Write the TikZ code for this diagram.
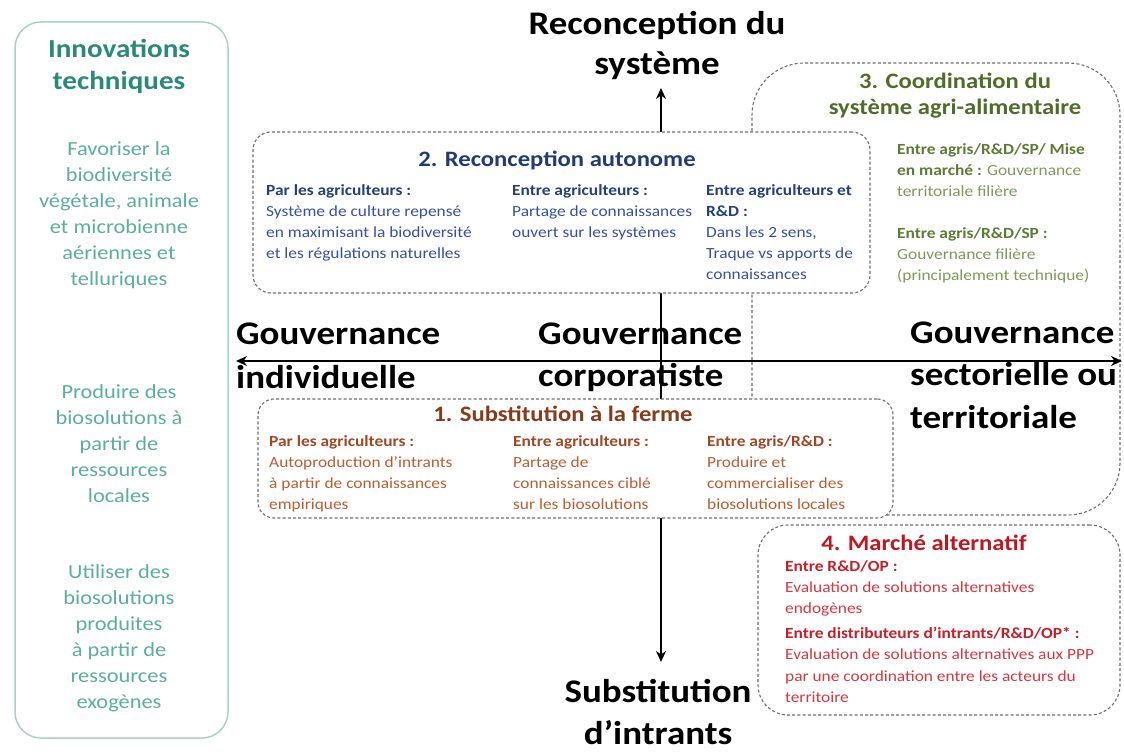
\documentclass[tikz,border=0pt]{standalone}
\usepackage{fontspec}
\setmainfont{Carlito}[FakeStretch=1.12]
\usetikzlibrary{arrows.meta}
\definecolor{tealT}{HTML}{2A8A7A}
\definecolor{tealB}{HTML}{5AAE9E}
\definecolor{tealL}{HTML}{A3D2C8}
\definecolor{bTwoT}{HTML}{1F3C78}
\definecolor{bTwoH}{HTML}{22407F}
\definecolor{bTwoB}{HTML}{3552A2}
\definecolor{bThrT}{HTML}{4C6E26}
\definecolor{bThrH}{HTML}{5A7C33}
\definecolor{bThrB}{HTML}{7A9A55}
\definecolor{bOneT}{HTML}{8A3A1A}
\definecolor{bOneH}{HTML}{A04822}
\definecolor{bOneB}{HTML}{BA5E30}
\definecolor{bFouT}{HTML}{C0161E}
\definecolor{bFouH}{HTML}{C41F29}
\definecolor{bFouB}{HTML}{D63840}
\definecolor{dashC}{HTML}{6E6E6E}
\newcommand\LinesL[2]{\vtop{\baselineskip=#1\lineskiplimit=-16000pt\lineskip=0pt\halign{##\hfil\cr#2\crcr}}}
\newcommand\LinesC[2]{\vtop{\baselineskip=#1\lineskiplimit=-16000pt\lineskip=0pt\halign{\hfil##\hfil\cr#2\crcr}}}
\tikzset{
  dbox/.style={draw=dashC, line width=1.1pt, dash pattern=on 3pt off 2.2pt, inner sep=0pt},
  wbox/.style={dbox, fill=white},
  big/.style={inner sep=0pt, font=\fontsize{33}{42}\selectfont\bfseries, text=black},
  ttl/.style={inner sep=0pt, font=\fontsize{22}{26}\selectfont\bfseries, anchor=base},
  body/.style={inner sep=0pt, font=\fontsize{15.5}{21}\selectfont, anchor=base west},
  lbody/.style={inner sep=0pt, font=\fontsize{20}{26}\selectfont, text=tealB, anchor=base},
  axis/.style={line width=2.4pt, {Stealth[length=11pt,width=10pt]}-{Stealth[length=11pt,width=10pt]}},
}
\begin{document}
\begin{tikzpicture}[x=1pt,y=-1pt]
\useasboundingbox (0,0) rectangle (1124,754);
% left panel
\node[draw=tealL, line width=1.5pt, rounded corners=26pt, minimum width=213pt, minimum height=716pt, inner sep=0pt] (lbox) at (121.5,380) {};
\node[inner sep=0pt, font=\fontsize{26}{32}\selectfont\bfseries, text=tealT, anchor=base] (ltitle) at (119,58) {\LinesC{32pt}{Innovations\cr techniques}};
\node[lbody] (lt1) at (119,156) {\LinesC{26pt}{Favoriser la\cr biodiversité\cr végétale, animale\cr et microbienne\cr aériennes et\cr telluriques}};
\node[lbody] (lt2) at (119,398) {\LinesC{26pt}{Produire des\cr biosolutions à\cr partir de\cr ressources\cr locales}};
\node[lbody] (lt3) at (119,578) {\LinesC{26pt}{Utiliser des\cr biosolutions\cr produites\cr à partir de\cr ressources\cr exogènes}};
% box 3 outline (behind)
\node[dbox, rounded corners=52pt, minimum width=368pt, minimum height=452pt] (b3) at (936,289) {};
% axes
\coordinate (hl) at (236,361);
\coordinate (hr) at (1122,361);
\coordinate (vt) at (661,88);
\coordinate (vb) at (661,662);
\draw[axis] (hl) -- (hr);
\draw[axis] (vb) -- (vt);
% boxes 2, 1, 4
\node[wbox, rounded corners=18pt, minimum width=617pt, minimum height=161pt] (b2) at (561.5,212.5) {};
\node[wbox, rounded corners=16pt, minimum width=635pt, minimum height=119pt] (b1) at (575.5,458.5) {};
\node[wbox, rounded corners=30pt, minimum width=362pt, minimum height=190pt] (b4) at (939,620) {};
% big labels
\node[big, anchor=base] (top) at (657,35) {\LinesC{40pt}{Reconception du\cr système}};
\node[big, anchor=base] (bot) at (658,702) {\LinesC{42pt}{Substitution\cr d’intrants}};
\node[big, anchor=base west] (gl) at (236,344) {\LinesL{44pt}{Gouvernance\cr individuelle}};
\node[big, anchor=base west] (gc) at (538,344) {\LinesL{42pt}{Gouvernance\cr corporatiste}};
\node[big, anchor=base west] (gr) at (910,343) {\LinesL{42.5pt}{Gouvernance\cr sectorielle ou\cr territoriale}};
% box 2 text
\node[ttl, text=bTwoT] (b2t) at (557,167) {2. Reconception autonome};
\node[body, text=bTwoB] (b2a) at (266,196) {\LinesL{21pt}{\textcolor{bTwoH}{\bfseries Par les agriculteurs :}\cr Système de culture  repensé\cr en maximisant la biodiversité\cr et les régulations naturelles}};
\node[body, text=bTwoB] (b2b) at (512,196) {\LinesL{21pt}{\textcolor{bTwoH}{\bfseries Entre agriculteurs :}\cr Partage de connaissances\cr ouvert sur les systèmes}};
\node[body, text=bTwoB] (b2c) at (706,196) {\LinesL{21pt}{\textcolor{bTwoH}{\bfseries Entre agriculteurs et}\cr \textcolor{bTwoH}{\bfseries R\&D :}\cr Dans les 2 sens,\cr Traque vs apports de\cr connaissances}};
% box 3 text
\node[ttl, text=bThrT] (b3t) at (955,89) {\LinesC{26pt}{3. Coordination du\cr système agri-alimentaire}};
\node[body, text=bThrB] (b3a) at (897,155) {\LinesL{21pt}{\textcolor{bThrH}{\bfseries Entre agris/R\&D/SP/ Mise}\cr \textcolor{bThrH}{\bfseries en marché :} Gouvernance\cr territoriale filière\cr\cr \textcolor{bThrH}{\bfseries Entre agris/R\&D/SP :}\cr Gouvernance filière\cr (principalement technique)}};
% box 1 text
\node[ttl, text=bOneT] (b1t) at (563,421) {1. Substitution à la ferme};
\node[body, text=bOneB] (b1a) at (269,446) {\LinesL{21pt}{\textcolor{bOneH}{\bfseries Par les agriculteurs :}\cr Autoproduction d’intrants\cr à partir de connaissances\cr empiriques}};
\node[body, text=bOneB] (b1b) at (513,446) {\LinesL{21pt}{\textcolor{bOneH}{\bfseries Entre agriculteurs :}\cr Partage de\cr connaissances  ciblé\cr sur les biosolutions}};
\node[body, text=bOneB] (b1c) at (707,446) {\LinesL{21pt}{\textcolor{bOneH}{\bfseries Entre agris/R\&D :}\cr Produire et\cr commercialiser  des\cr biosolutions locales}};
% box 4 text
\node[ttl, text=bFouT] (b4t) at (924,550) {4. Marché alternatif};
\node[body, text=bFouB] (b4a) at (785,571) {\LinesL{21pt}{\textcolor{bFouH}{\bfseries Entre R\&D/OP :}\cr Evaluation de solutions alternatives\cr endogènes}};
\node[body, text=bFouB] (b4b) at (785,638) {\LinesL{21.5pt}{\textcolor{bFouH}{\bfseries Entre distributeurs d’intrants/R\&D/OP* :}\cr Evaluation de solutions alternatives aux PPP\cr par une coordination entre les acteurs du\cr territoire}};
\end{tikzpicture}
\end{document}
